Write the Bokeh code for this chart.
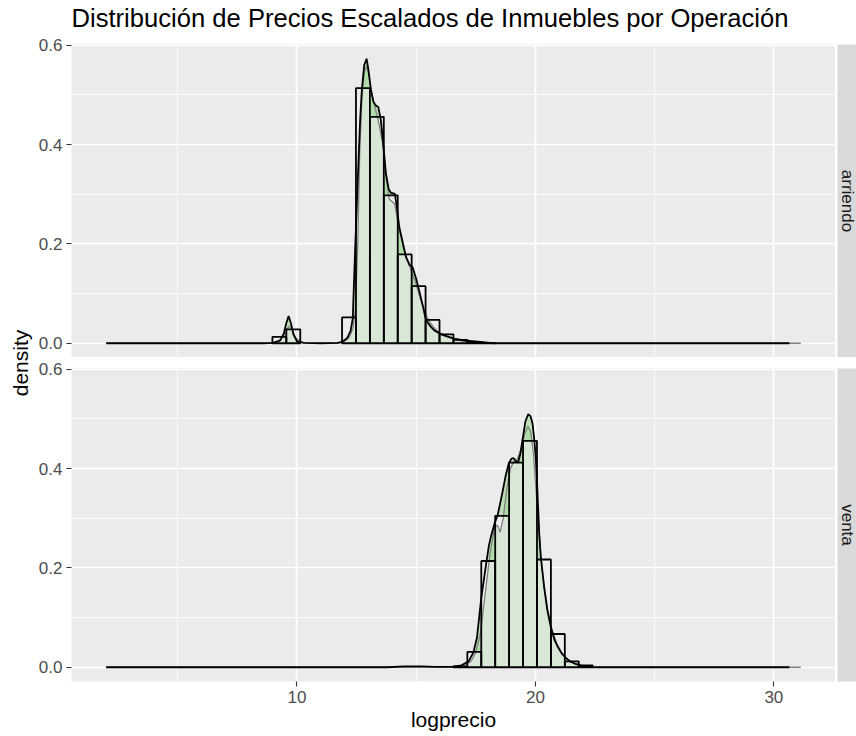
import math

from bokeh.plotting import figure
from bokeh.layouts import row, column
from bokeh.models import Range1d, FixedTicker, Label, PrintfTickFormatter
from bokeh.embed import file_html
from bokeh.resources import INLINE

# ---- texts ----
title_text = "Distribución de Precios Escalados de Inmuebles por Operación"
facet_labels = ["arriendo", "venta"]
x_label = "logprecio"
y_label = "density"

# ---- ticks ----
x_ticks = [10, 20, 30]
x_minor = [5, 15, 25]
y_ticks = [0.0, 0.2, 0.4, 0.6]
y_minor = [0.1, 0.3, 0.5]

# ---- data range of logprecio (both operations) ----
data_min = 2.0
data_max = 31.13

# ---- histogram (density scale), shared bin edges ----
bin_edges = [8.970, 9.554, 10.138, 10.722, 11.306, 11.890, 12.474, 13.058,
             13.642, 14.226, 14.810, 15.394, 15.978, 16.562, 17.146, 17.730,
             18.314, 18.898, 19.482, 20.066, 20.650, 21.234, 21.818, 22.402]
hist_arriendo = [0.013, 0.028, 0.0, 0.0, 0.0, 0.052, 0.514, 0.456,
                 0.298, 0.179, 0.115, 0.047, 0.018, 0.007, 0.003, 0.001,
                 0.0, 0.0, 0.0, 0.0, 0.0, 0.0, 0.0]
hist_venta = [0.0, 0.0, 0.0, 0.0, 0.0, 0.0, 0.0, 0.0,
              0.0, 0.0, 0.0, 0.0, 0.0, 0.002, 0.031, 0.214,
              0.305, 0.412, 0.456, 0.217, 0.067, 0.012, 0.004]

# ---- kernel density (black outline) ----
kde_arriendo_x = [2.0, 8.6, 9.0, 9.3, 9.45, 9.55, 9.65, 9.75, 9.85, 10.0, 10.3,
                  11.0, 11.7, 11.9, 12.1, 12.25, 12.34, 12.44, 12.55, 12.65,
                  12.72, 12.82, 12.92, 13.0, 13.1, 13.21, 13.31, 13.41, 13.52,
                  13.62, 13.73, 13.85, 13.94, 14.05, 14.11, 14.2, 14.29, 14.45,
                  14.57, 14.72, 14.85, 15.0, 15.13, 15.28, 15.41, 15.6, 15.76,
                  16.0, 16.3, 16.6, 17.0, 17.7, 18.3, 30.65]
kde_arriendo_y = [0.0, 0.0, 0.001, 0.006, 0.02, 0.04, 0.055, 0.04, 0.018, 0.004, 0.001,
                  0.0, 0.001, 0.003, 0.01, 0.025, 0.05, 0.19, 0.33, 0.45,
                  0.51, 0.56, 0.573, 0.55, 0.51, 0.486, 0.479, 0.476, 0.449,
                  0.40, 0.342, 0.31, 0.303, 0.302, 0.30, 0.27, 0.234, 0.20,
                  0.174, 0.158, 0.153, 0.13, 0.105, 0.075, 0.047, 0.034, 0.026,
                  0.019, 0.014, 0.0095, 0.006, 0.003, 0.0, 0.0]

kde_venta_x = [2.0, 13.8, 14.5, 15.2, 15.8, 16.5, 16.9, 17.2, 17.4, 17.55, 17.73,
               17.85, 17.94, 18.05, 18.14, 18.29, 18.42, 18.6, 18.75, 18.89,
               19.0, 19.09, 19.18, 19.28, 19.37, 19.46, 19.58, 19.7, 19.8, 19.88,
               19.95, 20.02, 20.08, 20.16, 20.23, 20.37, 20.5, 20.65, 20.8,
               20.95, 21.1, 21.28, 21.45, 21.63, 21.98, 22.5, 30.65]
kde_venta_y = [0.0, 0.0, 0.002, 0.002, 0.001, 0.001, 0.004, 0.012, 0.03, 0.06, 0.14,
               0.18, 0.21, 0.245, 0.264, 0.29, 0.307, 0.348, 0.385, 0.412,
               0.42, 0.421, 0.415, 0.414, 0.43, 0.458, 0.495, 0.51, 0.505, 0.491,
               0.46, 0.42, 0.36, 0.27, 0.22, 0.16, 0.115, 0.08, 0.055,
               0.04, 0.028, 0.019, 0.012, 0.008, 0.002, 0.0, 0.0]

# ---- smoother density (grey outline) ----
smooth_arriendo_x = [2.0, 8.8, 9.2, 9.45, 9.6, 9.7, 9.8, 9.95, 10.2, 10.6, 11.7,
                     12.0, 12.2, 12.35, 12.45, 12.55, 12.63, 12.72, 12.82, 12.92,
                     13.02, 13.15, 13.3, 13.45, 13.6, 13.75, 13.87, 14.0, 14.1,
                     14.25, 14.45, 14.64, 14.8, 14.99, 15.17, 15.34, 15.5, 15.7,
                     15.95, 16.2, 16.6, 17.0, 17.6, 18.3, 31.13]
smooth_arriendo_y = [0.0, 0.0, 0.003, 0.015, 0.03, 0.035, 0.028, 0.01, 0.002, 0.0, 0.0,
                     0.004, 0.012, 0.03, 0.07, 0.20, 0.38, 0.49, 0.545, 0.558,
                     0.54, 0.50, 0.47, 0.44, 0.40, 0.33, 0.29, 0.285, 0.28,
                     0.24, 0.195, 0.166, 0.145, 0.12, 0.09, 0.066, 0.048, 0.034,
                     0.022, 0.015, 0.008, 0.004, 0.001, 0.0, 0.0]

smooth_venta_x = [2.0, 15.0, 16.5, 17.0, 17.3, 17.5, 17.7, 17.9, 18.1, 18.3, 18.42,
                  18.52, 18.65, 18.8, 18.95, 19.1, 19.25, 19.4, 19.55, 19.68,
                  19.8, 19.92, 20.05, 20.2, 20.35, 20.5, 20.7, 20.9, 21.1, 21.3,
                  21.6, 22.0, 22.6, 31.13]
smooth_venta_y = [0.0, 0.0, 0.001, 0.004, 0.012, 0.03, 0.07, 0.15, 0.23, 0.285, 0.285,
                  0.272, 0.30, 0.36, 0.40, 0.415, 0.42, 0.44, 0.47, 0.485,
                  0.475, 0.43, 0.34, 0.24, 0.17, 0.12, 0.075, 0.048, 0.03, 0.018,
                  0.008, 0.003, 0.0, 0.0]

# ---- styling ----
FONT = "Liberation Sans"
PANEL_BG = "#ebebeb"
STRIP_BG = "#d9d9d9"
GREEN = "#66cc55"
BAR_FILL = "#ededed"

LABEL_W = 34
PANEL_LEFT = 37
FRAME_W = 764
FRAME_H = 313
GAP = 11
TITLE_H = 33
BOTTOM_H = 55
STRIP_GAP = 2
STRIP_W = 19
RIGHT_W = PANEL_LEFT + FRAME_W + STRIP_GAP + STRIP_W

# ggplot-like 5% expansion on both scales
x_pad = 0.05 * (data_max - data_min)
x_range = (data_min - x_pad, data_max + x_pad)
y_max = max(max(kde_arriendo_y), max(kde_venta_y), max(hist_arriendo), max(hist_venta))
y_range = (-0.05 * y_max, 1.05 * y_max)


def blank(width, height):
    f = figure(frame_width=width, frame_height=height,
               x_range=Range1d(0, width), y_range=Range1d(0, height),
               output_backend="svg", toolbar_location=None,
               x_axis_location=None, y_axis_location=None, min_border=0)
    f.outline_line_color = None
    f.background_fill_color = "white"
    f.border_fill_color = "white"
    f.grid.visible = False
    return f


def make_panel(hist, kde_x, kde_y, sm_x, sm_y, last):
    p = figure(frame_width=FRAME_W, frame_height=FRAME_H,
               x_range=Range1d(*x_range), y_range=Range1d(*y_range),
               output_backend="svg", toolbar_location=None,
               min_border_left=PANEL_LEFT, min_border_right=0,
               min_border_top=GAP,
               min_border_bottom=BOTTOM_H if last else 0)
    p.background_fill_color = PANEL_BG
    p.border_fill_color = "white"
    p.outline_line_color = None

    # grids
    p.xgrid.ticker = FixedTicker(ticks=x_ticks, minor_ticks=x_minor)
    p.ygrid.ticker = FixedTicker(ticks=y_ticks, minor_ticks=y_minor)
    for g in (p.xgrid, p.ygrid):
        g.grid_line_color = "white"
        g.grid_line_width = 1.6
        g.minor_grid_line_color = "white"
        g.minor_grid_line_width = 0.8

    # axes
    p.yaxis.ticker = FixedTicker(ticks=y_ticks)
    p.yaxis.formatter = PrintfTickFormatter(format="%.1f")
    p.xaxis.ticker = FixedTicker(ticks=x_ticks)
    for ax in (p.xaxis, p.yaxis):
        ax.axis_line_color = None
        ax.major_tick_line_color = "#333333"
        ax.major_tick_line_width = 1.1
        ax.major_tick_out = 5
        ax.major_tick_in = 0
        ax.minor_tick_line_color = None
        ax.major_label_text_color = "#4d4d4d"
        ax.major_label_text_font = FONT
        ax.major_label_text_font_size = "17px"
        ax.major_label_standoff = 4
    if last:
        p.xaxis.axis_label = x_label
        p.xaxis.axis_label_text_font = FONT
        p.xaxis.axis_label_text_font_size = "21px"
        p.xaxis.axis_label_text_font_style = "normal"
        p.xaxis.axis_label_text_color = "black"
        p.xaxis.axis_label_standoff = 2
    else:
        p.xaxis.visible = False

    left = [a for a, h in zip(bin_edges[:-1], hist) if h > 0]
    right = [b for b, h in zip(bin_edges[1:], hist) if h > 0]
    top = [h for h in hist if h > 0]

    # filled kernel density underneath the bars
    p.varea(x=kde_x, y1=0, y2=kde_y, fill_color=GREEN, fill_alpha=0.35)
    # histogram bar fill
    p.quad(left=left, right=right, bottom=0, top=top,
           fill_color=BAR_FILL, line_color=None)
    # smoother density on top of the bars
    p.varea(x=sm_x, y1=0, y2=sm_y, fill_color=GREEN, fill_alpha=0.15)
    p.line(sm_x, sm_y, line_color="#808080", line_width=1.3)
    # bar outlines
    p.quad(left=left, right=right, bottom=0, top=top,
           fill_color=None, line_color="black", line_width=1.8)
    # kernel density outline
    p.line(kde_x, kde_y, line_color="black", line_width=1.8)
    return p


def make_strip(text, last):
    s = figure(frame_width=STRIP_W, frame_height=FRAME_H,
               x_range=Range1d(0, 1), y_range=Range1d(0, 1),
               output_backend="svg", toolbar_location=None,
               x_axis_location=None, y_axis_location=None,
               min_border_left=STRIP_GAP, min_border_right=0,
               min_border_top=GAP,
               min_border_bottom=BOTTOM_H if last else 0)
    s.background_fill_color = STRIP_BG
    s.border_fill_color = "white"
    s.outline_line_color = None
    s.grid.visible = False
    s.add_layout(Label(x=0.5, y=0.5, text=text, angle=-math.pi / 2,
                       text_align="center", text_baseline="middle",
                       text_font=FONT, text_font_size="17px",
                       text_color="#1a1a1a"))
    return s


# title row, aligned with the left edge of the panels
title_fig = blank(RIGHT_W, TITLE_H)
title_fig.add_layout(Label(x=PANEL_LEFT, y=TITLE_H - 17.5, text=title_text,
                           text_align="left", text_baseline="middle",
                           text_font=FONT, text_font_size="25.6px",
                           text_color="black"))

# shared y-axis title, centred on both panels
total_h = TITLE_H + GAP + FRAME_H + GAP + FRAME_H + BOTTOM_H
ylab = blank(LABEL_W, total_h)
ylab.add_layout(Label(x=20, y=total_h - (TITLE_H + GAP + FRAME_H + GAP / 2), text=y_label,
                      angle=math.pi / 2, text_align="center", text_baseline="middle",
                      text_font=FONT, text_font_size="21px", text_color="black"))

top_panel = make_panel(hist_arriendo, kde_arriendo_x, kde_arriendo_y,
                       smooth_arriendo_x, smooth_arriendo_y, False)
bottom_panel = make_panel(hist_venta, kde_venta_x, kde_venta_y,
                          smooth_venta_x, smooth_venta_y, True)

layout = row(
    ylab,
    column(
        title_fig,
        row(top_panel, make_strip(facet_labels[0], False)),
        row(bottom_panel, make_strip(facet_labels[1], True)),
    ),
)

open("out.html", "w").write(file_html(layout, INLINE))
